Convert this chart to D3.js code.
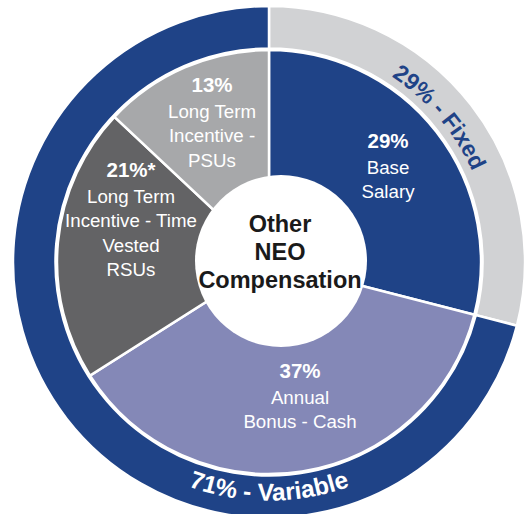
<!DOCTYPE html>
<html>
<head>
<meta charset="utf-8">
<script src="https://cdn.jsdelivr.net/npm/d3@7"></script>
<style>
  body { margin: 0; background: #fff; }
  text { font-family: "Liberation Sans", Arial, sans-serif; }
</style>
</head>
<body>
<div id="container"></div>
<script>
// inner pie - the pay mix
const sliceNames = ["Base Salary", "Annual Bonus - Cash", "Long Term Incentive - Time Vested RSUs", "Long Term Incentive - PSUs"]
const slicePct = [29, 37, 21, 13]
const sliceSuffix = ["", "", "*", ""]
const sliceLines = [["Base", "Salary"], ["Annual", "Bonus - Cash"], ["Long Term", "Incentive - Time", "Vested", "RSUs"], ["Long Term", "Incentive -", "PSUs"]]
const sliceColors = ["#1f4387", "#8488b7", "#636365", "#a7a8aa"]

// outer ring - fixed vs variable
const ringNames = ["Fixed", "Variable"]
const ringPct = [29, 71]
const ringColors = ["#d1d2d4", "#1f4387"]
const ringTextColors = ["#1f4387", "#ffffff"]

const centerTitle = ["Other", "NEO", "Compensation"]

const width = 525, height = 514
const cx = 269, cy = 262

// where the slice labels sit (offset of the % line from the centre)
const labelOffset = [[119, -114], [31, 116], [-138, -85], [-57, -170]]
const ringLabelAngle = [49.7, 180]
const ringLabelRadius = [222.4, 238.6]
const ringLabelSize = [23, 24.5]

const svg = d3.select("#container")
  .append("svg")
  .attr("width", width)
  .attr("height", height)
  .append("g")
  .attr("transform", `translate(${cx}, ${cy})`)

const pie = d3.pie().sort(null).value(d => d)

const ringArc = d3.arc().innerRadius(213.5).outerRadius(256)
const pieArc = d3.arc().innerRadius(0).outerRadius(212)

// outer ring
svg.append("g")
  .selectAll("path")
  .data(pie(ringPct))
  .join("path")
  .attr("d", ringArc)
  .attr("fill", (d, i) => ringColors[i])
  .attr("stroke", "#fff")
  .attr("stroke-width", 2.5)

// inner pie
svg.append("g")
  .selectAll("path")
  .data(pie(slicePct))
  .join("path")
  .attr("d", pieArc)
  .attr("fill", (d, i) => sliceColors[i])
  .attr("stroke", "#fff")
  .attr("stroke-width", 2.5)

// white hole (sits a little right of centre in the original)
svg.append("circle")
  .attr("cx", 12)
  .attr("cy", -1)
  .attr("r", 86)
  .attr("fill", "#fff")

// slice labels, one text per line
slicePct.forEach((v, i) => {
  const g = svg.append("g")
    .attr("transform", `translate(${labelOffset[i][0]}, ${labelOffset[i][1]})`)
  g.append("text")
    .attr("text-anchor", "middle")
    .attr("fill", "#fff")
    .style("font-weight", "bold")
    .style("font-size", "20.5px")
    .text(v + "%" + sliceSuffix[i])
  g.selectAll(".line")
    .data(sliceLines[i])
    .join("text")
    .attr("class", "line")
    .attr("text-anchor", "middle")
    .attr("fill", "#fff")
    .attr("y", (d, j) => 26 + j * 24.3)
    .style("font-size", "18.7px")
    .text(d => d)
})

// centre title
svg.append("g")
  .selectAll("text")
  .data(centerTitle)
  .join("text")
  .attr("text-anchor", "middle")
  .attr("fill", "#1a1a1a")
  .style("font-weight", "bold")
  .style("font-size", "23.5px")
  .attr("x", 11)
  .attr("y", (d, i) => -30 + i * 28)
  .text(d => d)

// curved ring labels
const toXY = (r, deg) => {
  const a = deg * Math.PI / 180
  return [r * Math.sin(a), -r * Math.cos(a)]
}

ringPct.forEach((v, i) => {
  const r = ringLabelRadius[i]
  const mid = ringLabelAngle[i]
  // fixed reads clockwise along the top right, variable reads left to right along the bottom
  const clockwise = i === 0
  const a0 = clockwise ? mid - 70 : mid + 70
  const a1 = clockwise ? mid + 70 : mid - 70
  const p0 = toXY(r, a0), p1 = toXY(r, a1)
  svg.append("path")
    .attr("id", "ringPath" + i)
    .attr("d", `M${p0[0]},${p0[1]} A${r},${r} 0 0 ${clockwise ? 1 : 0} ${p1[0]},${p1[1]}`)
    .attr("fill", "none")

  svg.append("text")
    .attr("fill", ringTextColors[i])
    .style("font-weight", "bold")
    .style("font-size", ringLabelSize[i] + "px")
    .append("textPath")
    .attr("href", "#ringPath" + i)
    .attr("startOffset", "50%")
    .attr("text-anchor", "middle")
    .text(v + "% - " + ringNames[i])
})
</script>
</body>
</html>
